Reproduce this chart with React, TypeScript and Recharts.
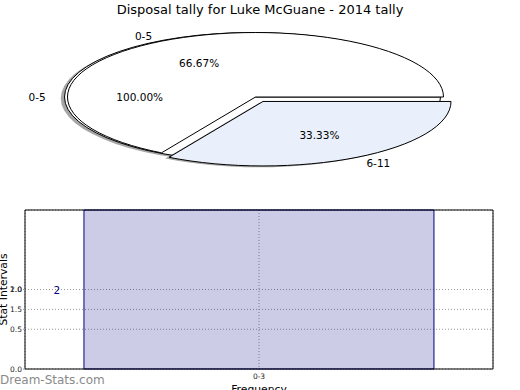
import React from "react";
import { Bar, BarChart, CartesianGrid, Cell, LabelList, Pie, PieChart, XAxis, YAxis } from "recharts";

const chartTitle = "Disposal tally for Luke McGuane - 2014 tally";

// back pie (single slice) and front pie (two slices)
const wholeLabels = ["0-5"];
const wholeValues = [2];
const splitLabels = ["0-5", "6-11"];
const splitValues = [2, 1];

const barCategories = ["0-3"];
const barValues = [2];
const yTickValues = [0, 0.5, 0.75, 1];
const yTickLabels = [["0.0"], ["0.5"], ["1.5"], ["1.0", "2.0"]];

const wholeColors = ["#ffffff"];
const splitColors = ["#ffffff", "#e9effb"];

const FONT = "'DejaVu Sans', sans-serif";
const NAVY = "#000080";
const SQUASH = 0.343;
const EXPLODE = 0.08;
const EXPLODED_SLICE = "6-11";

const wholeData = wholeLabels.map((name, i) => ({ name, value: wholeValues[i] }));
const splitData = splitLabels.map((name, i) => ({ name, value: splitValues[i] }));
const barData = barCategories.map((range, i) => ({ range, count: barValues[i] }));

function explodeShift(name: string, midAngle: number, r: number, exploded?: string) {
  if (!exploded || name !== exploded) return [0, 0];
  const a = (midAngle * Math.PI) / 180;
  return [EXPLODE * r * Math.cos(a), -EXPLODE * r * SQUASH * Math.sin(a)];
}

function wedgePath(cx: number, cy: number, rx: number, ry: number, start: number, end: number) {
  const pt = (deg: number) => {
    const a = (deg * Math.PI) / 180;
    return [cx + rx * Math.cos(a), cy - ry * Math.sin(a)];
  };
  if (Math.abs(end - start) >= 359.999) {
    // full wedge: ring plus the radial line matplotlib draws
    return `M ${cx + rx} ${cy} A ${rx} ${ry} 0 1 0 ${cx - rx} ${cy} A ${rx} ${ry} 0 1 0 ${cx + rx} ${cy} Z M ${cx} ${cy} L ${cx + rx} ${cy}`;
  }
  const [x1, y1] = pt(start);
  const [x2, y2] = pt(end);
  const large = Math.abs(end - start) > 180 ? 1 : 0;
  const sweep = end > start ? 0 : 1;
  return `M ${cx} ${cy} L ${x1} ${y1} A ${rx} ${ry} 0 ${large} ${sweep} ${x2} ${y2} Z`;
}

function makeWedge(exploded?: string, shadowAll = false) {
  return (props: any) => {
    const { cx, cy, outerRadius, startAngle, endAngle, fill } = props;
    const midAngle = props.midAngle ?? (startAngle + endAngle) / 2;
    const name = props.payload?.name ?? props.name;
    const [dx, dy] = explodeShift(name, midAngle, outerRadius, exploded);
    const d = wedgePath(cx + dx, cy + dy, outerRadius, outerRadius * SQUASH, startAngle, endAngle);
    const withShadow = shadowAll || name === exploded;
    return (
      <g>
        {withShadow && (
          <path
            d={d}
            transform={`translate(${-0.02 * outerRadius}, ${0.02 * outerRadius * SQUASH})`}
            fill="#4d4d4d"
            fillOpacity={0.5}
            stroke="none"
          />
        )}
        <path d={d} fill={fill} stroke="#000" strokeWidth={1} />
      </g>
    );
  };
}

function makeLabel(exploded?: string) {
  return (props: any) => {
    const { cx, cy, outerRadius, percent } = props;
    const midAngle = props.midAngle ?? (props.startAngle + props.endAngle) / 2;
    const name = props.payload?.name ?? props.name;
    const [dx, dy] = explodeShift(name, midAngle, outerRadius, exploded);
    const a = (midAngle * Math.PI) / 180;
    const cos = Math.cos(a);
    const sin = Math.sin(a);
    const rx = outerRadius;
    const ry = outerRadius * SQUASH;
    const anchor = cos > 1e-6 ? "start" : cos < -1e-6 ? "end" : "middle";
    return (
      <g>
        <text
          x={cx + dx + 1.1 * rx * cos}
          y={cy + dy - 1.1 * ry * sin}
          textAnchor={anchor}
          dominantBaseline="central"
          fontSize={10.5}
          fontFamily={FONT}
          fill="#000"
        >
          {name}
        </text>
        <text
          x={cx + dx + 0.6 * rx * cos}
          y={cy + dy - 0.6 * ry * sin}
          textAnchor="middle"
          dominantBaseline="central"
          fontSize={10.5}
          fontFamily={FONT}
          fill="#000"
        >
          {(percent * 100).toFixed(2)}%
        </text>
      </g>
    );
  };
}

function renderYTick(props: any) {
  const { x, y, payload } = props;
  const labels = yTickLabels[yTickValues.indexOf(payload.value)] ?? [];
  return (
    <g>
      {labels.map((l) => (
        <text key={l} x={x} y={y} textAnchor="end" dominantBaseline="central" fontSize={7.5} fontFamily={FONT} fill="#222">
          {l}
        </text>
      ))}
    </g>
  );
}

function renderYLabel(props: any) {
  const vb = props.viewBox;
  const cy = vb.y + vb.height / 2;
  const x = 7;
  return (
    <text x={x} y={cy} transform={`rotate(-90, ${x}, ${cy})`} textAnchor="middle" fontSize={10.75} fontFamily={FONT} fill="#000">
      Stat Intervals
    </text>
  );
}

function renderXLabel(props: any) {
  const vb = props.viewBox;
  return (
    <text x={vb.x + vb.width / 2} y={vb.y + vb.height + 3} textAnchor="middle" fontSize={10.75} fontFamily={FONT} fill="#000">
      Frequency
    </text>
  );
}

function renderBarLabel(props: any) {
  const vb = props.viewBox && props.viewBox.width != null ? props.viewBox : props;
  return (
    <text x={vb.x - 27} y={vb.y + vb.height / 2} textAnchor="middle" dominantBaseline="central" fontSize={10.5} fontFamily={FONT} fill={NAVY}>
      {props.value}
    </text>
  );
}

export default function App() {
  return (
    <div
      style={{
        position: "absolute",
        left: 0,
        top: 0,
        width: 520,
        height: 390,
        background: "#fff",
        overflow: "hidden",
        fontFamily: FONT,
      }}
    >
      <div style={{ position: "absolute", left: 0, top: 2, width: 520, textAlign: "center", fontSize: 13, lineHeight: "15px", color: "#000" }}>
        {chartTitle}
      </div>

      <div style={{ position: "absolute", left: 0, top: 0 }}>
        <PieChart width={520} height={190} margin={{ top: 0, right: 0, bottom: 0, left: 0 }}>
          <Pie
            data={wholeData}
            dataKey="value"
            nameKey="name"
            cx={252.5}
            cy={97}
            outerRadius={188}
            startAngle={0}
            endAngle={360}
            shape={makeWedge(undefined, true)}
            inactiveShape={makeWedge(undefined, true)}
            activeShape={makeWedge(undefined, true)}
            label={makeLabel()}
            labelLine={false}
            isAnimationActive={false}
          >
            {wholeData.map((d, i) => (
              <Cell key={d.name} fill={wholeColors[i]} />
            ))}
          </Pie>
          <Pie
            data={splitData}
            dataKey="value"
            nameKey="name"
            cx={255.5}
            cy={97}
            outerRadius={188}
            startAngle={0}
            endAngle={360}
            shape={makeWedge(EXPLODED_SLICE)}
            inactiveShape={makeWedge(EXPLODED_SLICE)}
            activeShape={makeWedge(EXPLODED_SLICE)}
            label={makeLabel(EXPLODED_SLICE)}
            labelLine={false}
            isAnimationActive={false}
          >
            {splitData.map((d, i) => (
              <Cell key={d.name} fill={splitColors[i]} />
            ))}
          </Pie>
        </PieChart>
      </div>

      <div style={{ position: "absolute", left: 0, top: 190 }}>
        <BarChart width={520} height={200} data={barData} margin={{ top: 19, right: 26, bottom: 0, left: 0 }} barCategoryGap="12.6%">
          <CartesianGrid stroke="#9a9a9a" strokeDasharray="1 2" />
          <XAxis
            dataKey="range"
            height={21}
            axisLine={{ stroke: "#000" }}
            tickLine={false}
            tickSize={3}
            tickMargin={2}
            interval={0}
            tick={{ fontSize: 7.5, fill: "#222", fontFamily: FONT }}
            label={renderXLabel}
          />
          <XAxis xAxisId="top" orientation="top" dataKey="range" height={1} tick={false} tickLine={false} axisLine={{ stroke: "#000" }} />
          <YAxis
            type="number"
            domain={[0, 2]}
            ticks={yTickValues}
            interval={0}
            width={25}
            tickSize={2}
            tickMargin={1}
            tickLine={{ stroke: "#999" }}
            axisLine={{ stroke: "#000" }}
            tick={renderYTick}
            label={renderYLabel}
          />
          <YAxis yAxisId="right" orientation="right" width={1} tick={false} tickLine={false} axisLine={{ stroke: "#000" }} />
          <Bar dataKey="count" fill={NAVY} fillOpacity={0.2} stroke={NAVY} strokeWidth={1} isAnimationActive={false}>
            <LabelList dataKey="count" content={renderBarLabel} />
          </Bar>
        </BarChart>
      </div>

      <div style={{ position: "absolute", left: 0, top: 373, fontSize: 12, lineHeight: "14px", color: "#8a8a8a" }}>
        Dream-Stats.com
      </div>
    </div>
  );
}
